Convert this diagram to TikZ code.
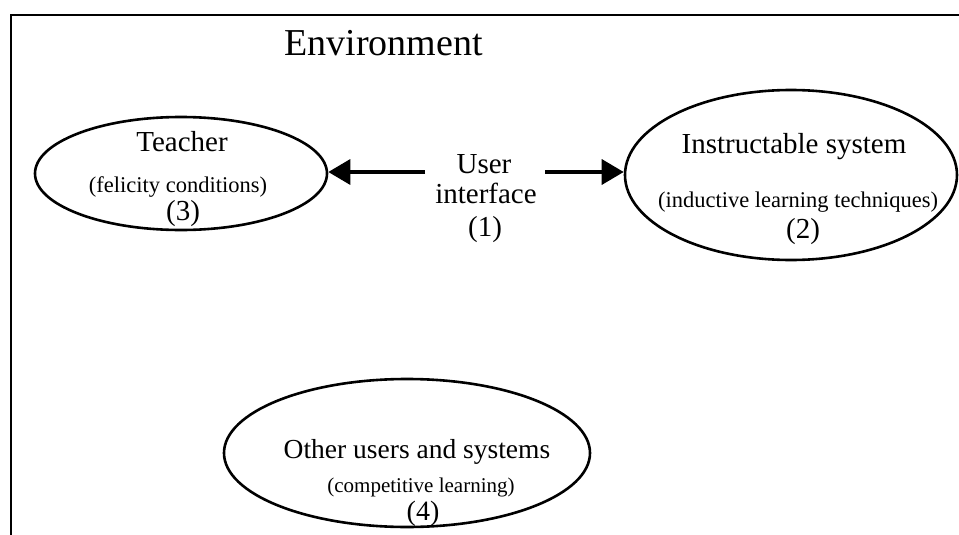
\documentclass[tikz,border=0pt]{standalone}
\usepackage{fontspec}
\setmainfont{Liberation Serif}
\usetikzlibrary{shapes.geometric,arrows.meta}

\tikzset{
  agent/.style={ellipse, draw, line width=2.6pt, inner sep=0pt},
  big/.style={anchor=base, inner sep=0pt, font=\fontsize{29}{32}\selectfont},
  small/.style={anchor=base, inner sep=0pt, font=\fontsize{22.5}{26}\selectfont},
  link/.style={line width=3.5pt, -{Triangle[length=22pt,width=25pt]}},
}

\begin{document}
\begin{tikzpicture}[x=1pt,y=-1pt]
  \useasboundingbox (0,0) rectangle (959,535);

  % open frame of the environment
  \draw[line width=1.6pt] (11,535) -- (11,15) -- (959,15);
  \node[anchor=base, inner sep=0pt, font=\fontsize{38}{42}\selectfont] (env) at (383.5,56) {Environment};

  % the three parties
  \node[agent, minimum width=292pt, minimum height=113pt] (teacher) at (181,173.5) {};
  \node[agent, minimum width=332pt, minimum height=170pt] (system) at (791,175) {};
  \node[agent, minimum width=366pt, minimum height=148pt] (others) at (407,453) {};

  % labels of the teacher
  \node[big]   (teacherT) at (182,151) {Teacher};
  \node[small] (teacherS) at (178,192) {(felicity conditions)};
  \node[big]   (teacherN) at (183,220) {(3)};

  % labels of the instructable system
  \node[big]   (systemT) at (794,153) {Instructable system};
  \node[small] (systemS) at (798,207) {(inductive learning techniques)};
  \node[big]   (systemN) at (803,238) {(2)};

  % labels of the other users
  \node[big, font=\fontsize{27.5}{31}\selectfont] (othersT) at (417,458) {Other users and systems};
  \node[small, font=\fontsize{21}{24}\selectfont] (othersS) at (421,492) {(competitive learning)};
  \node[big, font=\fontsize{28}{31}\selectfont]   (othersN) at (423,520) {(4)};

  % user interface between teacher and system
  \node[big] (uiA) at (484,173) {User};
  \node[big] (uiB) at (486,203) {interface};
  \node[big] (uiN) at (485,236) {(1)};
  \coordinate (uiL) at (425,172);
  \coordinate (uiR) at (545,172);

  \draw[link] (uiL) -- (uiL -| teacher.east);
  \draw[link] (uiR) -- (uiR -| system.west);
\end{tikzpicture}
\end{document}
